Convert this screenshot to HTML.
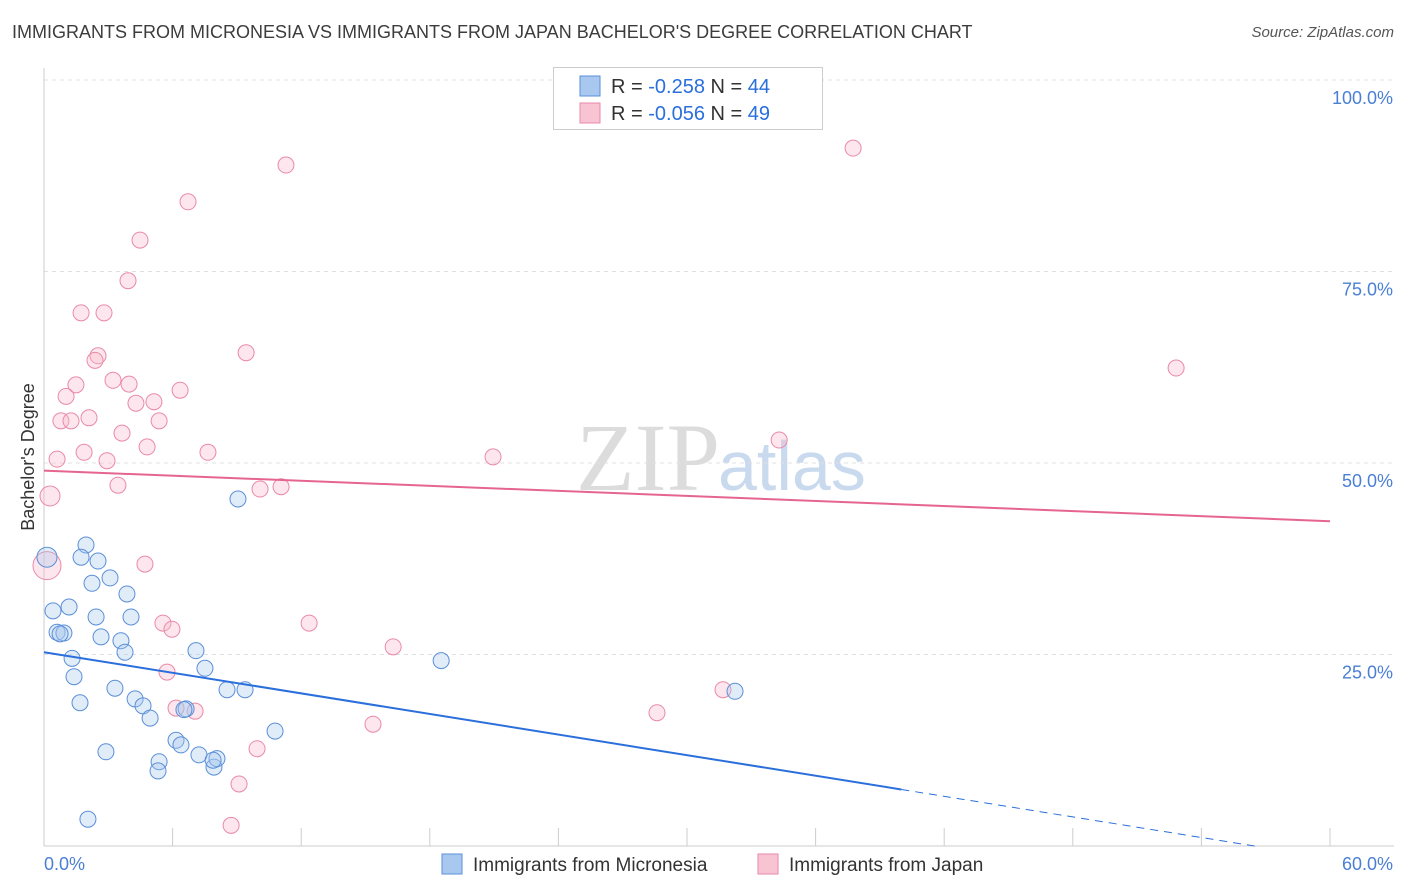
<!DOCTYPE html>
<html><head><meta charset="utf-8">
<style>
body{margin:0;background:#fff;font-family:"Liberation Sans",sans-serif;}
#wrap{position:relative;width:1406px;height:892px;overflow:hidden;}
.title{position:absolute;left:12px;top:22px;font-size:18px;color:#3c3c3c;}
.source{position:absolute;right:12px;top:24px;font-size:15px;color:#555;font-style:italic;}
</style></head><body>
<div id="wrap">
<div class="title">IMMIGRANTS FROM MICRONESIA VS IMMIGRANTS FROM JAPAN BACHELOR'S DEGREE CORRELATION CHART</div>
<div class="source">Source: ZipAtlas.com</div>
<svg id="svg" width="1406" height="892" style="position:absolute;left:0;top:0">
<text x="720" y="490" font-size="96" fill="#dcdcdc" text-anchor="end" font-family="Liberation Serif">ZIP</text>
<text x="718" y="490" font-size="70" fill="#c9d9ee" font-family="Liberation Sans">atlas</text>
</svg>
</div>
<script>
const xTicks=[0,60];
const yTicks=[25,50,75,100];
const blueX=[0.14,0.42,1.17,0.61,0.93,1.96,1.73,2.52,3.08,2.24,3.87,2.43,4.06,2.66,3.59,3.78,1.31,1.40,3.31,1.68,4.25,4.62,4.95,6.63,7.09,7.51,8.54,9.38,9.05,10.78,6.16,6.39,2.89,5.37,5.32,7.23,7.93,8.07,7.89,2.05,18.53,32.24,0.75,6.53];
const blueY=[37.7,30.7,31.2,27.9,27.8,39.3,37.7,37.2,35.0,34.3,32.9,29.9,29.9,27.3,26.8,25.3,24.5,22.1,20.6,18.7,19.2,18.3,16.7,17.9,25.5,23.2,20.4,20.4,45.3,15.0,13.8,13.2,12.3,11.0,9.8,11.9,10.3,11.4,11.2,3.5,24.2,20.2,27.7,17.8];
const pinkX=[0.28,0.14,0.61,1.73,2.80,3.92,4.48,6.72,11.29,37.75,52.82,2.52,2.38,1.49,1.03,3.22,3.97,6.35,0.79,1.26,2.10,4.29,5.13,5.37,3.64,4.81,1.87,2.94,3.45,7.65,9.43,10.08,11.06,20.95,34.30,4.71,5.55,5.97,12.37,16.29,5.74,6.16,7.05,15.35,28.60,31.68,9.94,9.10,8.73];
const pinkY=[45.7,36.6,50.5,69.6,69.6,73.8,79.1,84.1,88.9,91.1,62.4,64.0,63.4,60.2,58.7,60.8,60.3,59.5,55.5,55.5,55.9,57.8,58.0,55.5,53.9,52.1,51.4,50.3,47.1,51.4,64.4,46.6,46.9,50.8,53.0,36.8,29.1,28.3,29.1,26.0,22.7,18.0,17.6,15.9,17.4,20.4,12.7,8.1,2.7];
const blueTrend=[25.3,-0.448];
const pinkTrend=[49.0,-0.11];
const X0=44,X1=1330,Y0=846,Y100=80;
const sx=v=>X0+v/60*(X1-X0);
const sy=v=>Y0-v/100*(Y0-Y100);
const svg=document.getElementById('svg');
const NS='http://www.w3.org/2000/svg';
function mk(t,a){const e=document.createElementNS(NS,t);for(const k in a)e.setAttribute(k,a[k]);svg.appendChild(e);return e;}
// gridlines
yTicks.forEach(v=>{
 const g=mk('line',{x1:X0,x2:1394,y1:sy(v),y2:sy(v),stroke:'#e0e0e0','stroke-dasharray':'4,4'});
 
 
 const t=mk('text',{x:1393,y:sy(v)+24,'text-anchor':'end','font-size':18,fill:'#4a7fd4'});
 t.textContent=v.toFixed(1)+'%';
 
 
});
const ax=mk('line',{x1:X0,x2:X0,y1:68,y2:846,stroke:'#ccc'});


const bx=mk('line',{x1:X0,x2:1394,y1:846,y2:846,stroke:'#ccc'});


for(let i=0;i<=10;i++){
 const tk=mk('line',{x1:sx(i*6),x2:sx(i*6),y1:828,y2:846,stroke:'#ccc'});
 
 
}
xTicks.forEach((v,i)=>{
 const t=mk('text',{x:i?1393:44,y:870,'text-anchor':i?'end':'start','font-size':18,fill:'#4a7fd4'});
 t.textContent=v.toFixed(1)+'%';
 
 
});
const yl=mk('text',{x:34,y:457,'text-anchor':'middle','font-size':18,fill:'#333',transform:'rotate(-90 34 457)'});
yl.textContent="Bachelor's Degree";


function pts(xs,ys,fill,stroke,name){
 xs.forEach((x,i)=>{
  const big=(x<0.3&&name=='pink'&&ys[i]<40)?14:(x<0.3&&name=='pink')?10:(x<0.2)?10:8;
  const c=mk('circle',{cx:sx(x),cy:sy(ys[i]),r:big,fill:fill,stroke:stroke,'stroke-width':1,'fill-opacity':0.35});
  
  
 });
}
pts(pinkX,pinkY,'#f8b7cb','#e98aa8','pink');
pts(blueX,blueY,'#a9c8ef','#5a8fd8','blue');
const bl=mk('line',{x1:sx(0),y1:sy(blueTrend[0]),x2:sx(40),y2:sy(blueTrend[0]+blueTrend[1]*40),stroke:'#2a6fdb','stroke-width':2});


const bd=mk('line',{x1:sx(40),y1:sy(blueTrend[0]+blueTrend[1]*40),x2:sx(56.5),y2:sy(blueTrend[0]+blueTrend[1]*56.5),stroke:'#2a6fdb','stroke-width':1,'stroke-dasharray':'8,6'});


const pl=mk('line',{x1:sx(0),y1:sy(pinkTrend[0]),x2:sx(60),y2:sy(pinkTrend[0]+pinkTrend[1]*60),stroke:'#e5658f','stroke-width':2});


// legend box
const lb=mk('rect',{x:553.5,y:67.5,width:269,height:62,fill:'#fff',stroke:'#ccc'});


[['#a9c8ef','#5a8fd8','-0.258','44',86],['#f8c3d3','#e98aa8','-0.056','49',113]].forEach((r,i)=>{
 const s=mk('rect',{x:580,y:r[4]-10,width:20,height:20,fill:r[0],stroke:r[1]});
 
 
 const t=mk('text',{x:611,y:r[4]+7,'font-size':20,fill:'#333'});
 t.innerHTML='R = <tspan fill="#2a6fdb">'+r[2]+'</tspan>   N = <tspan fill="#2a6fdb">'+r[3]+'</tspan>';
 t.setAttribute('xml:space','preserve');
 
 
});
[['#a9c8ef','#5a8fd8','Immigrants from Micronesia',442],['#f8c3d3','#e98aa8','Immigrants from Japan',758]].forEach((r,i)=>{
 const s=mk('rect',{x:r[3],y:854,width:20,height:20,fill:r[0],stroke:r[1]});
 
 
 const t=mk('text',{x:r[3]+31,y:871,'font-size':19,fill:'#333'});
 t.textContent=r[2];
 
 
});
</script>
</body></html>
